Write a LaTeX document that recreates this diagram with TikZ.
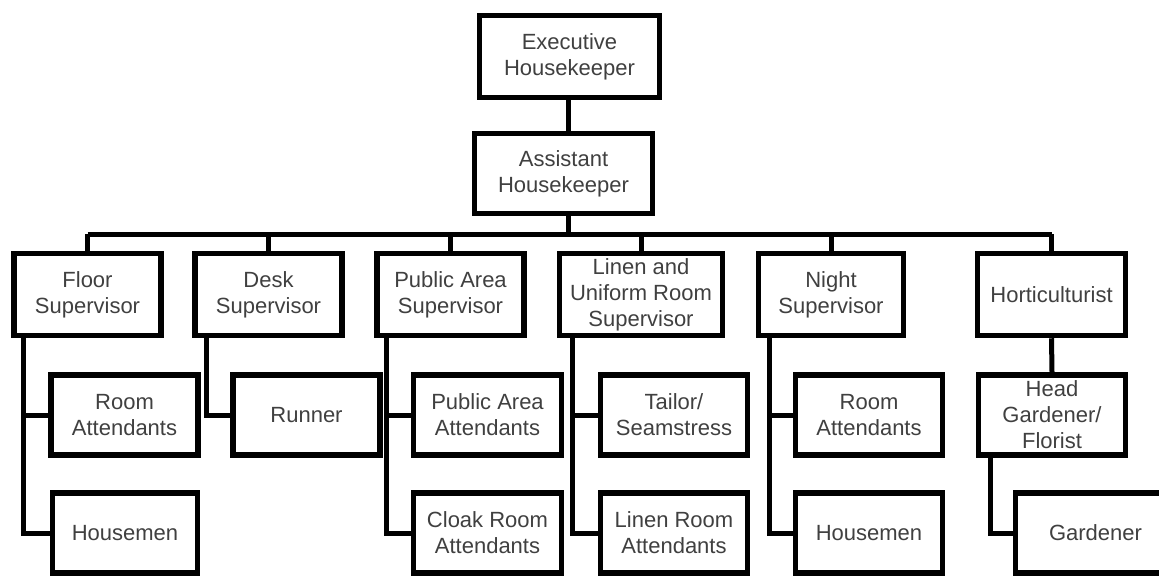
\documentclass[tikz,border=0pt]{standalone}
\usepackage{fontspec}
\setmainfont{Liberation Sans}
\begin{document}
\begin{tikzpicture}[x=1pt,y=-1pt,
  box/.style={draw=black, line width=5.5pt, minimum width=147pt, minimum height=80pt,
    align=center, inner sep=0pt, text=black!75, font=\fontsize{22}{26}\selectfont},
  conn/.style={draw=black, line width=5pt, line join=miter}]
\useasboundingbox (0,0) rectangle (1159,576);
\fill[white] (0,0) rectangle (1159,576);
% top
\node[box, minimum width=180pt, minimum height=82pt] (exec) at (569.5,56.5) {Executive\\Housekeeper};
\node[box, minimum width=178pt, minimum height=80pt] (asst) at (563.5,173.5) {Assistant\\Housekeeper};
% level 2
\node[box, minimum height=82pt] (floor) at (87.5,294.5) {Floor\\Supervisor};
\node[box, minimum height=82pt] (desk) at (268.5,294.5) {Desk\\Supervisor};
\node[box, minimum height=82pt] (pas) at (450.5,294.5) {Public Area\\Supervisor};
\node[box, minimum height=82pt, minimum width=163pt] (linen) at (641,294.5) {Linen and\\Uniform Room\\Supervisor};
\node[box, minimum height=82pt, minimum width=145pt] (night) at (831,294.5) {Night\\Supervisor};
\node[box, minimum height=82pt, minimum width=148pt] (horti) at (1051.5,294.5) {Horticulturist};
% level 3
\node[box] (ra1) at (124.5,415) {Room\\Attendants};
\node[box] (runner) at (306.5,415) {Runner};
\node[box, minimum width=148pt] (paa) at (487.5,415) {Public Area\\Attendants};
\node[box] (tailor) at (674,415) {Tailor/\\Seamstress};
\node[box] (ra2) at (869,415) {Room\\Attendants};
\node[box] (hg) at (1052,415) {Head\\Gardener/\\Florist};
% level 4
\node[box, minimum width=145pt] (hm1) at (125,533) {Housemen};
\node[box, minimum width=148pt] (cloak) at (487.5,533) {Cloak Room\\Attendants};
\node[box] (lra) at (674,533) {Linen Room\\Attendants};
\node[box] (hm2) at (869,533) {Housemen};
\node[box, minimum width=160pt] (gard) at (1095.5,533) {Gardener};
% connectors
\coordinate (bus) at (568,234);
\draw[conn] (exec.south -| bus) -- (asst.north -| bus);
\draw[conn] (asst.south -| bus) -- (bus);
\draw[conn] (floor.north |- bus) -- (horti.north |- bus);
\foreach \n in {floor,desk,pas,linen,night,horti}
  \draw[conn] (\n.north |- bus) -- (\n.north);
\draw[conn] (horti.south) -- (hg.north);
\draw[conn] ([xshift=12.5pt]floor.south west) |- (ra1.west);
\draw[conn] ([xshift=12.5pt]floor.south west) |- (hm1.west);
\draw[conn] ([xshift=14.5pt]desk.south west) |- (runner.west);
\draw[conn] ([xshift=12.5pt]pas.south west) |- (paa.west);
\draw[conn] ([xshift=12.5pt]pas.south west) |- (cloak.west);
\draw[conn] ([xshift=15.5pt]linen.south west) |- (tailor.west);
\draw[conn] ([xshift=15.5pt]linen.south west) |- (lra.west);
\draw[conn] ([xshift=13.5pt]night.south west) |- (ra2.west);
\draw[conn] ([xshift=13.5pt]night.south west) |- (hm2.west);
\draw[conn] ([xshift=14.5pt]hg.south west) |- (gard.west);
\end{tikzpicture}
\end{document}
